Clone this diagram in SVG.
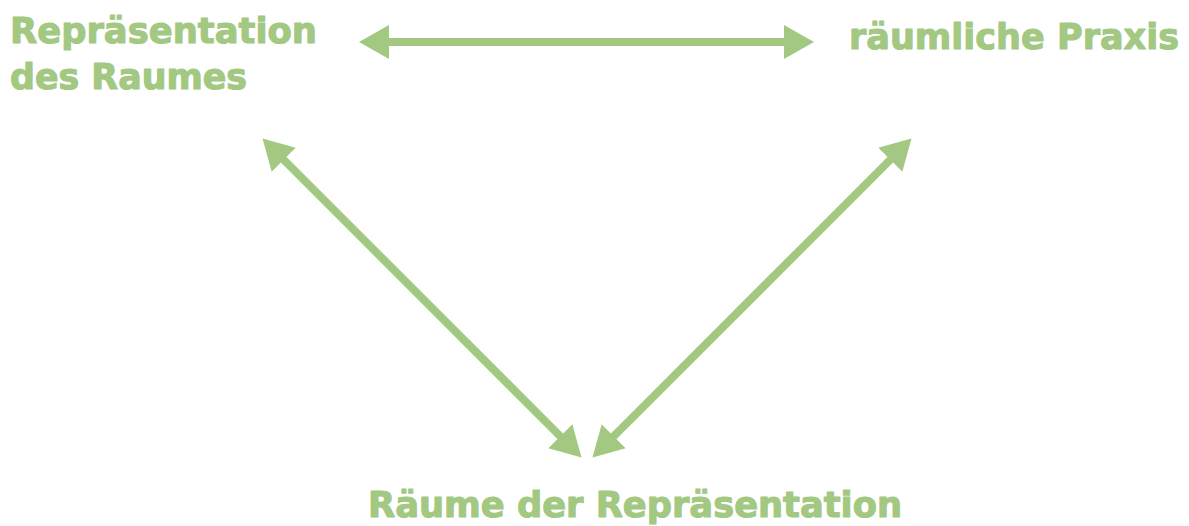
<svg xmlns="http://www.w3.org/2000/svg" width="1189" height="526" viewBox="0 0 1189 526">
  <style>
    .label { font-family: "DejaVu Sans", "Noto Sans", sans-serif; font-weight: 700; font-size: 36px; fill: #a2c882; stroke: #a2c882; stroke-width: 1.1; stroke-linejoin: round; }
    .link { stroke: #a2c882; stroke-width: 8; fill: none; }
  </style>
  <defs>
    <!-- arrowhead with its base on the line end, tip pointing outward -->
    <marker id="head" viewBox="0 0 30 34" refX="1" refY="17" markerWidth="30" markerHeight="34" markerUnits="userSpaceOnUse" orient="auto-start-reverse">
      <path d="M0,0 L30,17 L0,34 Z" fill="#a2c882"/>
    </marker>
  </defs>
  <rect width="1189" height="526" fill="#ffffff"/>

  <g id="connectors">
    <line class="link" x1="388" y1="42" x2="785" y2="42" marker-start="url(#head)" marker-end="url(#head)"/>
    <line class="link" x1="283" y1="159" x2="561" y2="437" marker-start="url(#head)" marker-end="url(#head)"/>
    <line class="link" x1="891" y1="159" x2="613" y2="437" marker-start="url(#head)" marker-end="url(#head)"/>
  </g>

  <g id="node-repraesentation-des-raumes">
    <text class="label" x="10" y="43" textLength="307" lengthAdjust="spacingAndGlyphs">Repräsentation</text>
    <text class="label" x="10" y="89" textLength="237" lengthAdjust="spacingAndGlyphs">des Raumes</text>
  </g>
  <g id="node-raeumliche-praxis">
    <text class="label" x="849" y="49" textLength="330" lengthAdjust="spacingAndGlyphs">räumliche Praxis</text>
  </g>
  <g id="node-raeume-der-repraesentation">
    <text class="label" x="368" y="517" textLength="534" lengthAdjust="spacingAndGlyphs">Räume der Repräsentation</text>
  </g>
</svg>
